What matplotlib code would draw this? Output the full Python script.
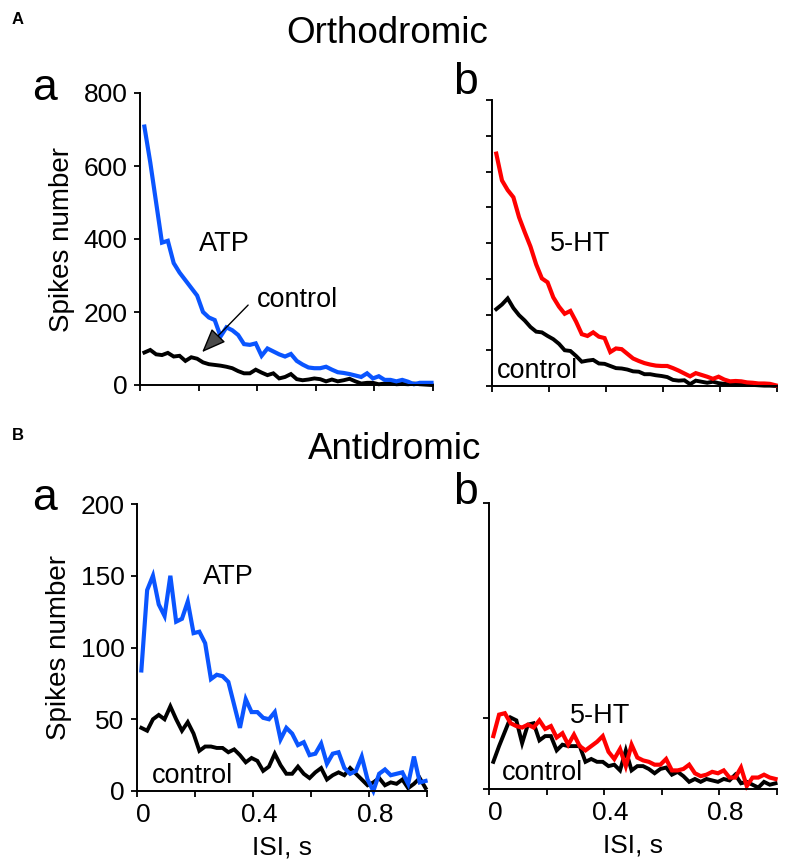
import matplotlib
matplotlib.use("Agg")
import matplotlib.pyplot as plt
from matplotlib.transforms import ScaledTranslation

plt.rcParams['font.family'] = ['Liberation Sans', 'DejaVu Sans']

# ISI bin centres (s)
isi = [0.015, 0.035, 0.055, 0.075, 0.095, 0.115, 0.135, 0.155, 0.175, 0.195,
       0.215, 0.235, 0.255, 0.275, 0.295, 0.315, 0.335, 0.355, 0.375, 0.395,
       0.415, 0.435, 0.455, 0.475, 0.495, 0.515, 0.535, 0.555, 0.575, 0.595,
       0.615, 0.635, 0.655, 0.675, 0.695, 0.715, 0.735, 0.755, 0.775, 0.795,
       0.815, 0.835, 0.855, 0.875, 0.895, 0.915, 0.935, 0.955, 0.975, 0.995]

# A a: Orthodromic, ATP
ortho_atp = [708, 610, 500, 390, 395, 334, 308, 287, 266, 245,
             200, 185, 178, 133, 158, 150, 137, 112, 110, 114,
             80, 100, 92, 84, 78, 85, 66, 56, 48, 46,
             46, 50, 42, 35, 33, 30, 26, 22, 32, 18,
             24, 14, 14, 10, 14, 9, 2, 6, 6, 6]
ortho_atp_ctrl = [89, 96, 84, 82, 88, 78, 80, 66, 76, 72,
                  62, 57, 55, 53, 50, 46, 38, 32, 32, 42,
                  34, 27, 32, 18, 22, 30, 16, 13, 15, 18,
                  16, 10, 15, 10, 13, 17, 10, 4, 6, 6,
                  2, 4, 6, 2, 3, 2, 4, 2, 1, 0]
# A b: Orthodromic, 5-HT
ortho_ht = [650, 575, 548, 528, 472, 430, 390, 340, 301, 290,
            248, 222, 202, 210, 180, 145, 140, 150, 138, 134,
            95, 105, 103, 90, 77, 70, 64, 60, 57, 56,
            56, 50, 43, 35, 27, 36, 31, 26, 20, 26,
            18, 13, 14, 13, 10, 9, 7, 7, 6, 2]
ortho_ht_ctrl = [215, 228, 245, 218, 198, 183, 165, 152, 150, 140,
                 131, 118, 100, 98, 84, 68, 71, 73, 63, 62,
                 56, 50, 49, 46, 41, 40, 33, 33, 30, 28,
                 25, 17, 15, 16, 5, 15, 12, 9, 12, 8,
                 6, 5, 4, 4, 3, 3, 2, 1, 1, 0]
# B a: Antidromic, ATP
anti_atp = [84, 140, 150, 130, 122, 150, 118, 120, 132, 110,
            111, 103, 78, 81, 80, 76, 60, 44, 64, 55,
            55, 51, 50, 55, 36, 44, 40, 32, 34, 25,
            26, 33, 19, 26, 27, 16, 12, 14, 24, 8,
            0, 12, 15, 11, 12, 13, 5, 24, 6, 7]
anti_atp_ctrl = [44, 42, 50, 53, 50, 59, 50, 42, 48, 40,
                 28, 31, 31, 30, 30, 27, 29, 25, 20, 23,
                 21, 14, 17, 26, 18, 12, 12, 17, 12, 9,
                 13, 16, 8, 11, 13, 11, 16, 12, 8, 4,
                 6, 9, 4, 6, 5, 8, 2, 5, 9, 2]
# B b: Antidromic, 5-HT
anti_ht = [37, 52, 53, 46, 44, 43, 45, 43, 48, 42,
           44, 36, 39, 31, 38, 30, 27, 30, 33, 37,
           26, 21, 28, 16, 31, 22, 20, 19, 17, 17,
           21, 13, 13, 14, 17, 11, 9, 10, 12, 11,
           13, 8, 8, 15, 2, 8, 8, 10, 8, 7]
anti_ht_ctrl = [19, 30, 40, 50, 48, 32, 45, 46, 34, 37,
                37, 27, 31, 30, 30, 30, 19, 21, 19, 19,
                16, 17, 13, 27, 13, 16, 16, 14, 11, 14,
                15, 10, 12, 9, 5, 7, 5, 7, 6, 5,
                7, 6, 10, 4, 5, 3, 1, 5, 3, 4]

x_ticks = [0, 0.2, 0.4, 0.6, 0.8, 1.0]
x_ticklabels = ['0', '', '0.4', '', '0.8', '']

BLUE = '#0a55ff'
RED = '#ff0000'
BLACK = '#000000'

W, H = 785, 866
fig = plt.figure(figsize=(W / 100, H / 100), dpi=100)


def make_ax(x0, y_top, x1, y_bot):
    ax = fig.add_axes([x0 / W, 1 - y_bot / H, (x1 - x0) / W, (y_bot - y_top) / H])
    for s in ['top', 'right']:
        ax.spines[s].set_visible(False)
    for s in ['left', 'bottom']:
        ax.spines[s].set_linewidth(1.4)
        ax.spines[s].set_color('black')
    ax.tick_params(direction='out', length=4, width=1.3, labelsize=19, pad=5)
    ax.set_xlim(0, 1.0)
    ax.set_xticks(x_ticks)
    return ax


lw_c = 3.0
lw_k = 2.8
fs_lab = 19.5

# ---- A a ----
ax1 = make_ax(140, 93, 433, 385)
ax1.set_ylim(0, 800)
ax1.set_yticks([0, 200, 400, 600, 800])
ax1.set_xticklabels([])
ax1.plot(isi, ortho_atp_ctrl, color=BLACK, lw=lw_k, clip_on=False, solid_joinstyle='miter')
ax1.plot(isi, ortho_atp, color=BLUE, lw=lw_c, clip_on=False, solid_joinstyle='miter')
ax1.set_ylabel('Spikes number', fontsize=20, labelpad=6)
ax1.text(0.20, 386, 'ATP', fontsize=fs_lab, ha='left', va='center')
ax1.text(0.40, 233, 'control', fontsize=fs_lab, ha='left', va='center')
ax1.annotate('', xy=(0.212, 90), xytext=(0.369, 219),
             arrowprops=dict(arrowstyle='-|>,head_length=1.5,head_width=0.6',
                             fc='#4a4a4a', ec='black', lw=1.0, shrinkA=0, shrinkB=0))

# ---- A b ----
ax2 = make_ax(492, 100, 777, 386)
ax2.set_ylim(0, 800)
ax2.set_yticks(list(range(0, 801, 100)))
ax2.set_yticklabels([])
ax2.set_xticklabels([])
ax2.plot(isi, ortho_ht_ctrl, color=BLACK, lw=lw_k, clip_on=False, solid_joinstyle='miter')
ax2.plot(isi, ortho_ht, color=RED, lw=lw_c, clip_on=False, solid_joinstyle='miter')
ax2.text(0.204, 397, '5-HT', fontsize=fs_lab, ha='left', va='center')
ax2.text(0.018, 42, 'control', fontsize=fs_lab, ha='left', va='center')

# ---- B a ----
ax3 = make_ax(137, 504, 427, 791)
ax3.set_ylim(0, 200)
ax3.set_yticks([0, 50, 100, 150, 200])
ax3.set_xticklabels(x_ticklabels)
ax3.plot(isi, anti_atp_ctrl, color=BLACK, lw=lw_k, clip_on=False, solid_joinstyle='miter')
ax3.plot(isi, anti_atp, color=BLUE, lw=lw_c, clip_on=False, solid_joinstyle='miter')
ax3.set_ylabel('Spikes number', fontsize=20, labelpad=6)
ax3.set_xlabel('ISI, s', fontsize=19, labelpad=6)
ax3.text(0.228, 149, 'ATP', fontsize=fs_lab, ha='left', va='center')
ax3.text(0.052, 10.5, 'control', fontsize=fs_lab, ha='left', va='center')

# ---- B b ----
ax4 = make_ax(489, 503, 777, 789)
ax4.set_ylim(0, 200)
ax4.set_yticks([0, 50, 200])
ax4.set_yticklabels([])
ax4.set_xticklabels(x_ticklabels)
ax4.plot(isi, anti_ht_ctrl, color=BLACK, lw=lw_k, clip_on=False, solid_joinstyle='miter')
ax4.plot(isi, anti_ht, color=RED, lw=lw_c, clip_on=False, solid_joinstyle='miter')
ax4.set_xlabel('ISI, s', fontsize=19, labelpad=6)
ax4.text(0.28, 51, '5-HT', fontsize=fs_lab, ha='left', va='center')
ax4.text(0.045, 11, 'control', fontsize=fs_lab, ha='left', va='center')

# shift x tick labels slightly right as in reference
off = ScaledTranslation(6 / 100, 0, fig.dpi_scale_trans)
for ax in (ax3, ax4):
    for lbl in ax.get_xticklabels():
        lbl.set_transform(lbl.get_transform() + off)

# ---- figure texts ----
fig.text(18 / W, 1 - 19 / H, 'A', fontsize=12, fontweight='bold', ha='center', va='center')
fig.text(18 / W, 1 - 435 / H, 'B', fontsize=12, fontweight='bold', ha='center', va='center')
fig.text(387 / W, 1 - 43 / H, 'Orthodromic', fontsize=26.5, ha='center', va='baseline')
fig.text(395 / W, 1 - 459 / H, 'Antidromic', fontsize=26.5, ha='center', va='baseline')
for (px, py, t) in [(45, 88, 'a'), (465, 83, 'b'), (45, 498, 'a'), (465, 493, 'b')]:
    fig.text(px / W, 1 - py / H, t, fontsize=32, ha='center', va='center')

fig.savefig('out.png', dpi=100)
